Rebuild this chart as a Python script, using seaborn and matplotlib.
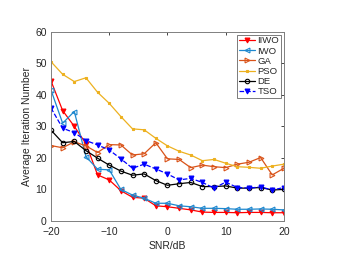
import matplotlib
matplotlib.use("Agg")
import matplotlib.pyplot as plt
import seaborn as sns
import numpy as np

snr = [-20, -18, -16, -14, -12, -10, -8, -6, -4, -2, 0, 2, 4, 6, 8, 10, 12, 14, 16, 18, 20]

iiwo = [44.4, 35.0, 30.0, 24.5, 14.6, 13.0, 9.6, 7.5, 7.2, 4.8, 4.5, 4.0, 3.5, 2.8, 2.7, 2.7, 2.6, 2.7, 2.7, 2.6, 2.6]
iwo = [41.5, 31.0, 34.7, 20.4, 16.4, 16.2, 10.0, 8.2, 7.2, 5.6, 5.6, 4.8, 4.5, 4.0, 4.0, 3.9, 3.7, 3.7, 3.8, 3.7, 3.5]
ga = [23.9, 23.2, 25.1, 23.8, 21.7, 24.2, 24.1, 20.9, 21.3, 24.8, 19.7, 19.5, 16.9, 17.7, 17.2, 16.9, 18.0, 18.6, 20.1, 14.6, 16.7]
pso = [50.5, 46.5, 44.2, 45.4, 40.8, 37.3, 33.1, 29.2, 28.9, 26.2, 23.8, 22.1, 20.9, 19.1, 19.5, 18.3, 17.2, 17.0, 16.7, 17.4, 18.0]
de = [28.8, 24.8, 25.2, 22.3, 19.9, 17.7, 15.8, 14.5, 14.9, 12.8, 11.3, 11.8, 12.2, 10.9, 10.9, 11.1, 10.4, 10.4, 10.6, 9.8, 10.0]
tso = [35.8, 29.4, 28.0, 25.5, 24.1, 22.5, 19.7, 16.7, 18.0, 16.5, 14.9, 13.0, 13.5, 12.2, 10.4, 12.3, 10.6, 10.4, 10.8, 9.8, 10.6]

labels = ["IIWO", "IWO", "GA", "PSO", "DE", "TSO"]

sns.set_theme(style="white")
plt.rcParams['font.family'] = ['Liberation Sans', 'DejaVu Sans']

fig = plt.figure(figsize=(3.4, 2.56), dpi=100)
ax = fig.add_axes([0.15, 0.137, 0.685, 0.739])

styles = [
    (iiwo, "#FF0000", "v", "-", True, 3.5),
    (iwo, "#1E88CF", "<", "-", False, 3.5),
    (ga, "#D95319", ">", "-", False, 3.5),
    (pso, "#EDB120", "s", "-", True, 1.6),
    (de, "#000000", "o", "-", False, 3.2),
    (tso, "#0000FF", "v", "--", True, 3.5),
]

for (vals, col, mk, ls, filled, ms), lab in zip(styles, labels):
    sns.lineplot(x=snr, y=vals, ax=ax, color=col, marker=mk, linestyle=ls,
                 linewidth=0.9, markersize=ms, markeredgewidth=0.8,
                 markerfacecolor=col if filled else "none", markeredgecolor=col,
                 label=lab)

ax.set_xlim(-20, 20)
ax.set_ylim(0, 60)
ax.set_xticks([-20, -10, 0, 10, 20])
ax.set_yticks([0, 10, 20, 30, 40, 50, 60])
ax.tick_params(direction="in", length=2.5, width=0.6, labelsize=7.5, colors="#262626",
               top=True, right=True)
ax.tick_params(axis="x", pad=4.5)
ax.tick_params(axis="y", pad=3)
for s in ax.spines.values():
    s.set_color("#808080")
    s.set_linewidth(0.7)
ax.set_xlabel("SNR/dB", fontsize=7.5, color="#262626", labelpad=3)
ax.set_ylabel("Average Iteration Number", fontsize=7.5, color="#262626", labelpad=2)

leg = ax.legend(loc="upper right", fontsize=6.8, frameon=True, fancybox=False,
                handlelength=1.7, handletextpad=0.25, borderpad=0.2,
                labelspacing=0.12, borderaxespad=0.3)
leg.get_frame().set_edgecolor("#404040")
leg.get_frame().set_linewidth(0.6)

fig.savefig("out.png", dpi=100)
